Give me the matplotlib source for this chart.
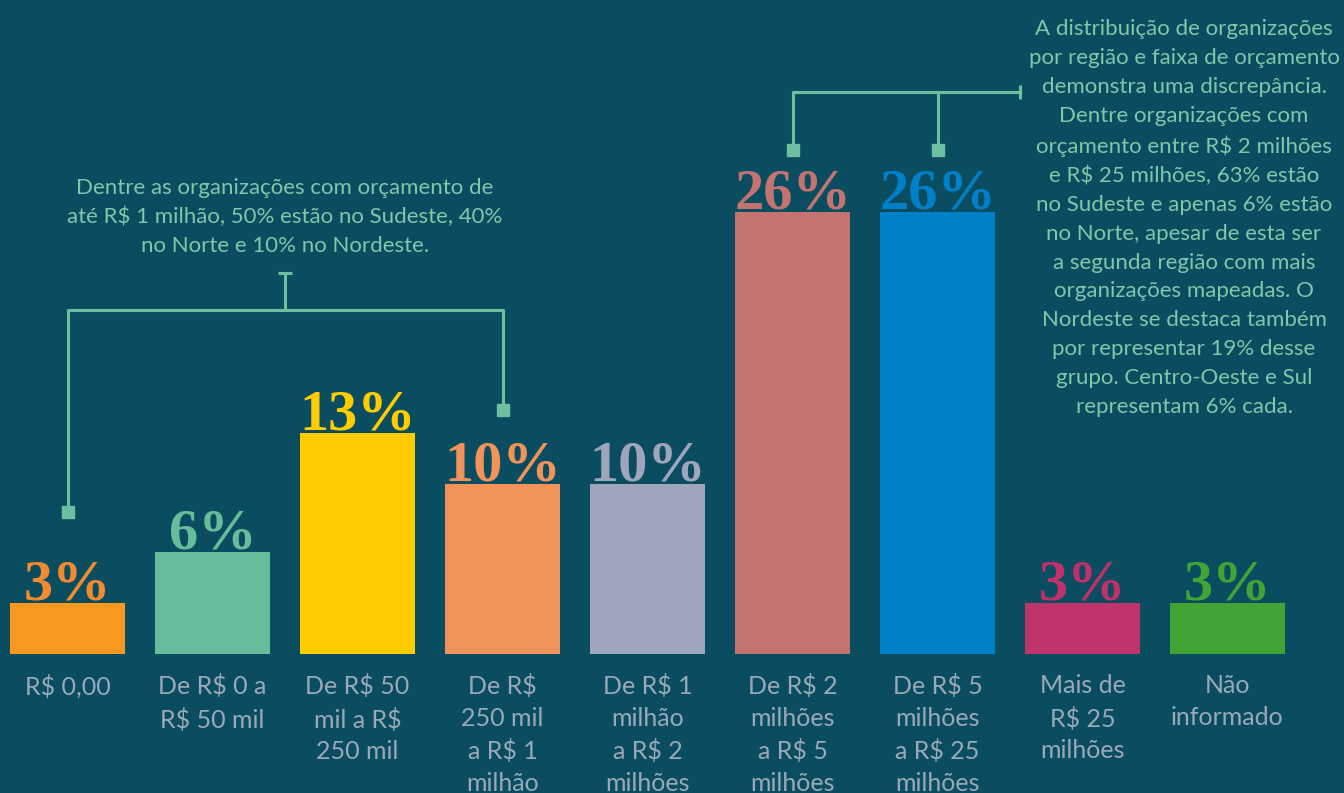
"""
Orçamento das organizações – distribuição por faixa (bar chart recreation)
"""

import matplotlib
matplotlib.use("Agg")
import matplotlib.pyplot as plt

# ---------------------------------------------------------------------------
# DATA
# ---------------------------------------------------------------------------
categories = [
    "R$ 0,00",
    "De R$ 0 a\nR$ 50 mil",
    "De R$ 50\nmil a R$\n250 mil",
    "De R$\n250 mil\na R$ 1\nmilhão",
    "De R$ 1\nmilhão\na R$ 2\nmilhões",
    "De R$ 2\nmilhões\na R$ 5\nmilhões",
    "De R$ 5\nmilhões\na R$ 25\nmilhões",
    "Mais de\nR$ 25\nmilhões",
    "Não\ninformado",
]
values = [3, 6, 13, 10, 10, 26, 26, 3, 3]
bar_colors = ["#f7991f", "#67bd9b", "#ffcc00", "#f2945a", "#9fa6bb",
              "#c37470", "#0080c8", "#bf346b", "#40a535"]
label_colors = ["#f28a30", "#67bd9b", "#ffcc00", "#f2945a", "#9fa6bb",
                "#c37470", "#0080c8", "#c0306a", "#40a535"]

note_left = ("Dentre as organizações com orçamento de\n"
             "até R$ 1 milhão, 50% estão no Sudeste, 40%\n"
             "no Norte e 10% no Nordeste.")
note_right = ("A distribuição de organizações\n"
              "por região e faixa de orçamento\n"
              "demonstra uma discrepância.\n"
              "Dentre organizações com\n"
              "orçamento entre R$ 2 milhões\n"
              "e R$ 25 milhões, 63% estão\n"
              "no Sudeste e apenas 6% estão\n"
              "no Norte, apesar de esta ser\n"
              "a segunda região com mais\n"
              "organizações mapeadas. O\n"
              "Nordeste se destaca também\n"
              "por representar 19% desse\n"
              "grupo. Centro-Oeste e Sul\n"
              "representam 6% cada.")

# ---------------------------------------------------------------------------
# STYLE
# ---------------------------------------------------------------------------
BG = "#0a4d60"
CAT_COLOR = "#9aa9b9"
NOTE_COLOR = "#7fc8a9"
LINE_COLOR = "#6cc0a0"
W, H = 1344, 793
STEP, X0, BASE, PX_PER_PCT = 145.0, 67.5, 654.0, 17.0

fig = plt.figure(figsize=(W / 100, H / 100), dpi=100)
fig.patch.set_facecolor(BG)
ax = fig.add_axes([0, 0, 1, 1])
ax.set_facecolor(BG)
ax.set_xlim(-X0 / STEP, (W - X0) / STEP)
ax.set_ylim(-(H - BASE) / PX_PER_PCT, BASE / PX_PER_PCT)
ax.axis("off")

x = list(range(len(values)))
ax.bar(x, values, width=115 / STEP, color=bar_colors, zorder=2)

for i, v in enumerate(values):
    ax.text(i, v + 0.2, f"{v}%", ha="center", va="baseline",
            fontsize=42, fontweight="bold", family="Liberation Serif",
            color=label_colors[i])
    ax.text(i, -1.2, categories[i], ha="center", va="top",
            fontsize=18, family="Lato", color=CAT_COLOR, linespacing=1.46)


def py(p):  # pixel row -> percent units
    return (BASE - p) / PX_PER_PCT


lk = dict(color=LINE_COLOR, lw=2.2, solid_capstyle="butt")

# left bracket (bars 0 and 3)
ax.plot([0, 0, 3, 3], [py(512), py(310), py(310), py(410)], **lk)
ax.plot([1.5, 1.5], [py(310), py(273)], **lk)
ax.plot([1.5 - 0.045, 1.5 + 0.045], [py(273), py(273)], **lk)
ax.plot([0, 3], [py(512), py(410)], ls="none", marker="s", ms=8,
        color=LINE_COLOR)
ax.text(1.5, py(217), note_left, ha="center", va="center", fontsize=16,
        family="Lato", color=NOTE_COLOR, linespacing=1.52)

# right bracket (bars 5 and 6)
xr = (1020 - X0) / STEP
ax.plot([5, 5, xr], [py(148), py(92), py(92)], **lk)
ax.plot([6, 6], [py(148), py(92)], **lk)
ax.plot([xr, xr], [py(85), py(99)], **lk)
ax.plot([5, 6], [py(150), py(150)], ls="none", marker="s", ms=8,
        color=LINE_COLOR)
ax.text((1184 - X0) / STEP, py(218), note_right, ha="center", va="center",
        fontsize=16, family="Lato", color=NOTE_COLOR, linespacing=1.55)

plt.savefig("out.png", dpi=100, facecolor=fig.get_facecolor())
